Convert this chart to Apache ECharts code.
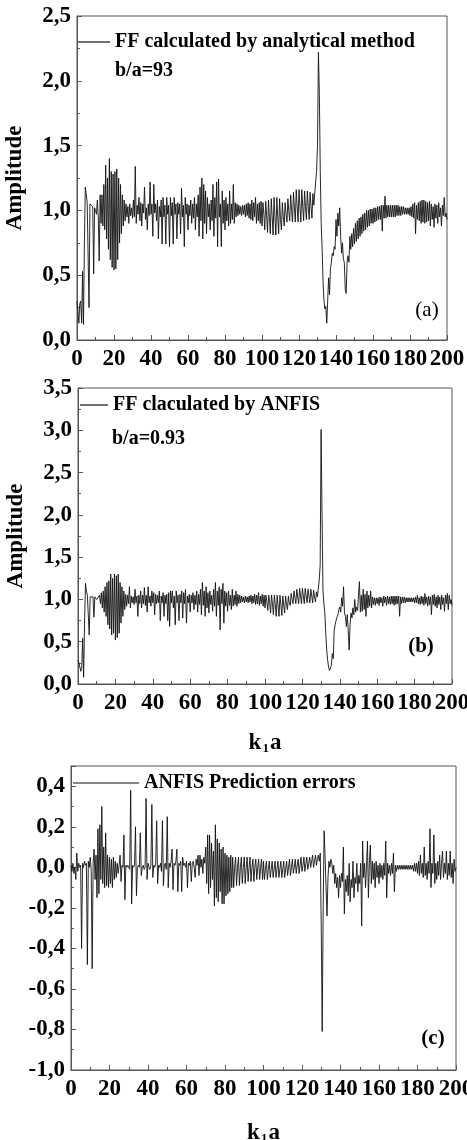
<!DOCTYPE html>
<html><head><meta charset="utf-8">
<script src="https://cdn.jsdelivr.net/npm/echarts@6/dist/echarts.min.js"></script>
<style>html,body{margin:0;padding:0;background:#fff}#c{width:467px;height:1140px}</style>
</head><body><div id="c"></div>
<script>
// sample spacing of k1a along the x axis
const X_STEP = 0.5;
const xTickLabels = ['0','20','40','60','80','100','120','140','160','180','200'];
const yTickLabelsA = ['0,0','0,5','1,0','1,5','2,0','2,5'];
const yTickLabelsB = ['0,0','0,5','1,0','1,5','2,0','2,5','3,0','3,5'];
const yTickLabelsC = ['-1,0','-0,8','-0,6','-0,4','-0,2','0,0','0,2','0,4'];
const seriesNames = ['FF calculated by analytical method','FF claculated by ANFIS','ANFIS Prediction errors'];
const panelNotes = ['b/a=93','b/a=0.93'];
const panelTags = ['(a)','(b)','(c)'];

// FF calculated by analytical method (k1a = 0 .. 200, step 0.5)
const ffAnalytical = [
0.30,0.22,0.13,0.28,0.30,0.13,0.53,0.12,0.75,1.18,1.12,1.06,1.05,0.25,1.05,1.04,1.04,1.03,0.51,1.02,
1.0,0.97,1.08,0.95,0.61,1.12,0.9,1.12,0.88,1.2,0.85,1.35,0.78,1.25,0.7,1.4,0.62,1.3,0.56,1.28,
0.54,1.3,0.55,1.32,0.62,1.25,0.75,1.2,0.82,1.12,0.88,1.08,0.92,1.05,0.95,1.03,0.9,1.05,0.96,1.02,
0.94,1.08,0.95,1.34,0.9,1.04,0.97,1.1,0.92,1.06,0.88,1.05,0.98,1.18,0.93,1.02,0.85,1.05,0.96,1.22,
0.97,1.05,0.8,1.2,0.98,1.05,0.92,1.08,0.78,1.03,0.95,1.08,0.74,1.1,0.95,1.04,0.74,1.1,0.97,1.04,
0.72,1.1,0.96,1.06,0.74,1.1,0.97,1.05,0.78,1.06,0.97,1.05,0.82,1.17,0.95,1.04,0.72,1.1,0.97,1.05,
0.85,1.04,0.96,1.08,0.9,1.05,0.94,1.1,0.85,1.05,0.95,1.12,0.8,1.18,0.92,1.25,0.78,1.2,0.9,1.15,
0.82,1.1,0.95,1.05,0.85,1.08,0.92,1.2,0.8,1.1,0.94,1.22,0.72,1.24,0.95,1.05,0.72,1.15,0.9,1.08,
0.85,1.1,0.92,1.05,0.88,1.15,0.9,1.05,0.93,1.2,0.9,1.06,0.95,1.05,0.96,1.04,0.97,1.03,0.96,1.04,
0.97,1.04,0.95,1.05,0.96,1.06,0.94,1.05,0.93,1.08,0.92,1.06,0.95,1.1,0.9,1.05,0.92,1.06,0.9,1.07,
0.88,1.06,0.97,0.85,1.07,0.96,0.83,1.08,0.95,0.82,1.09,0.95,0.81,1.1,0.95,0.81,1.1,0.95,0.82,1.09,
0.93,0.85,1.06,0.95,0.88,1.06,0.97,0.91,1.09,0.99,0.92,1.12,1.0,0.91,1.14,1.02,0.91,1.16,1.03,0.91,
1.16,1.03,0.91,1.16,1.03,0.92,1.15,1.03,0.93,1.15,1.03,0.93,1.14,1.03,0.94,1.13,1.04,1.05,1.22,1.3,
1.5,2.22,1.9,1.3,0.9,0.7,0.45,0.3,0.24,0.26,0.13,0.3,0.48,0.35,0.55,0.6,0.67,0.65,0.72,0.7,
0.93,0.8,0.98,0.88,1.02,0.8,0.67,0.75,0.62,0.6,0.39,0.36,0.6,0.65,0.6,0.8,0.7,0.82,0.72,0.86,
0.74,0.9,0.76,0.92,0.78,0.94,0.8,0.95,0.82,0.97,0.84,0.98,0.85,1.0,0.87,1.0,0.88,1.01,0.9,1.01,
0.9,1.02,0.91,1.02,0.92,1.03,0.93,1.03,0.93,1.04,0.84,1.04,0.94,1.11,0.94,1.04,0.95,1.04,0.95,1.04,
0.95,1.04,0.95,1.04,0.95,1.04,0.96,1.04,0.96,1.03,0.96,1.03,0.97,1.03,0.97,1.02,0.97,1.02,0.97,1.02,
0.96,1.03,0.95,1.05,0.94,1.06,0.82,1.04,0.93,1.06,0.92,1.07,0.9,1.08,0.91,1.08,0.9,1.07,0.91,1.06,
0.92,1.07,0.88,1.05,0.93,1.03,0.87,1.05,0.94,1.04,0.9,1.06,0.95,1.02,0.88,1.04,0.96,1.1,0.95,0.98,0.93
];

// FF calculated by ANFIS
const ffAnfis = [
0.28,0.25,0.2,0.15,0.2,0.54,0.08,0.7,1.19,1.1,1.05,1.04,0.58,1.03,1.04,1.03,1.03,0.79,1.03,1.02,
1.0,1.02,0.98,1.05,0.95,1.08,0.9,1.1,0.85,1.15,0.8,1.2,0.7,1.22,0.65,1.3,0.58,1.25,0.6,1.3,
0.52,1.28,0.55,1.3,0.6,1.2,0.72,1.15,0.8,1.1,0.88,1.06,0.92,1.05,0.95,1.15,0.9,1.04,0.96,1.03,
0.94,1.12,0.96,1.04,0.8,1.05,0.95,1.1,0.9,1.05,0.95,1.14,0.93,1.05,0.85,1.15,0.96,1.04,0.92,1.1,
0.96,1.08,0.82,1.06,0.95,1.05,0.96,1.1,0.75,1.04,0.96,1.08,0.8,1.05,0.95,1.06,0.75,1.08,0.68,1.1,
0.96,1.1,0.9,1.04,0.7,1.1,0.96,1.05,0.75,1.06,0.96,1.1,0.78,1.08,0.95,1.12,0.72,1.04,0.96,1.06,
0.85,1.05,0.96,1.08,0.88,1.05,0.94,1.1,0.85,1.06,0.94,1.12,0.82,1.2,0.93,1.1,0.8,1.15,0.9,1.08,
0.84,1.1,0.94,1.05,0.86,1.12,0.92,1.2,0.8,1.1,0.93,1.15,0.64,1.12,0.95,1.19,0.72,1.1,0.92,1.08,
0.86,1.1,0.93,1.05,0.88,1.12,0.92,1.05,0.94,1.1,0.92,1.06,0.95,1.05,0.96,1.04,0.97,1.03,0.96,1.04,
0.97,1.03,0.96,1.04,0.97,1.05,0.95,1.04,0.96,1.06,0.94,1.05,0.95,1.08,0.93,1.04,0.95,1.06,0.92,1.05,
0.9,1.05,0.97,0.87,1.05,0.96,0.84,1.05,0.95,0.82,1.05,0.94,0.8,1.05,0.93,0.8,1.05,0.93,0.81,1.04,
0.93,0.84,1.04,0.94,0.88,1.04,0.96,0.93,1.07,1.0,0.95,1.1,1.02,0.95,1.12,1.03,0.95,1.13,1.04,0.95,
1.13,1.04,0.95,1.13,1.04,0.96,1.12,1.04,0.96,1.12,1.04,0.96,1.11,1.03,0.97,1.09,1.03,1.05,1.23,1.4,
3.01,2.0,1.1,0.95,0.84,0.6,0.4,0.28,0.2,0.16,0.15,0.22,0.36,0.3,0.63,0.7,0.75,0.79,0.82,0.88,
0.91,0.85,1.02,0.92,1.15,0.84,0.8,0.68,0.82,0.65,0.4,0.7,0.84,0.78,0.9,0.82,1.0,0.85,0.91,0.87,
1.05,1.21,0.85,1.05,0.86,1.12,0.88,1.06,0.8,1.1,0.9,1.05,0.92,1.1,0.9,1.03,0.94,1.02,0.93,1.02,
0.95,1.02,0.93,1.03,0.96,1.02,0.92,1.04,0.96,1.03,0.93,1.04,0.95,1.03,0.94,1.04,0.95,1.04,0.93,1.04,
0.94,1.04,0.95,1.04,0.8,1.03,0.95,1.03,0.96,1.03,0.96,1.02,0.97,1.02,0.97,1.02,0.97,1.02,0.97,1.02,
0.96,1.03,0.96,1.05,0.95,1.02,0.94,1.04,0.95,1.03,0.93,1.07,0.95,1.03,0.92,1.04,0.94,1.03,0.82,1.05,
0.94,1.06,0.92,1.03,0.9,1.05,0.94,1.03,0.88,1.05,0.94,1.02,0.86,1.05,0.95,1.07,0.88,1.05,0.95,1.0,0.93
];

// ANFIS prediction errors
const anfisError = [
0.01,-0.02,0.02,-0.03,0.0,-0.06,0.07,-0.02,0.02,0.0,0.01,-0.4,0.02,0.0,0.03,0.01,0.02,-0.48,0.03,0.0,
0.05,-0.02,-0.5,0.02,0.09,-0.06,0.06,-0.15,0.19,-0.13,0.21,-0.06,0.3,-0.08,0.1,-0.1,0.17,-0.09,0.06,-0.1,
0.05,-0.08,0.04,-0.1,0.05,-0.06,0.03,-0.05,0.02,-0.03,0.01,0.06,-0.07,0.01,0.0,0.16,-0.16,0.01,0.0,0.01,
0.0,-0.01,0.38,-0.18,0.01,0.0,0.01,0.2,-0.14,0.0,0.01,0.0,0.17,-0.04,0.0,0.01,-0.01,0.0,0.34,-0.06,
0.02,0.0,-0.01,0.01,0.31,-0.05,0.01,0.0,0.02,0.23,-0.08,0.01,0.0,0.02,-0.02,0.23,-0.09,0.01,0.02,-0.01,
0.25,-0.1,0.02,0.0,0.03,0.09,-0.11,0.02,0.01,0.03,0.09,-0.12,0.02,0.01,0.03,-0.12,0.05,0.01,0.02,0.0,
0.03,-0.1,0.02,0.01,0.03,-0.07,0.02,0.03,0.0,-0.05,0.04,0.01,0.06,-0.04,0.06,0.0,0.04,-0.03,0.05,0.02,
0.1,-0.08,0.16,-0.13,0.16,-0.1,0.12,-0.06,0.08,-0.19,0.21,-0.15,0.14,-0.17,0.12,-0.12,0.09,-0.18,0.1,-0.18,
0.07,-0.14,0.06,-0.13,0.05,-0.12,0.06,-0.1,0.05,-0.1,0.0,0.05,-0.09,0.0,0.05,-0.09,0.0,0.05,-0.08,0.0,
0.05,-0.08,0.0,0.05,-0.07,0.0,0.05,-0.07,0.0,0.04,-0.07,0.0,0.04,-0.06,0.0,0.04,-0.06,0.0,0.04,-0.06,
0.03,-0.06,-0.01,0.03,-0.06,-0.01,0.03,-0.05,-0.01,0.03,-0.05,-0.01,0.03,-0.05,-0.01,0.03,-0.05,-0.01,0.03,-0.05,
-0.01,0.03,-0.05,-0.01,0.03,-0.04,0.0,0.04,-0.04,0.0,0.04,-0.03,0.0,0.04,-0.03,0.01,0.04,-0.03,0.01,0.05,
-0.02,0.01,0.05,-0.02,0.02,0.05,-0.01,0.02,0.05,0.0,0.03,0.06,0.0,0.03,0.06,0.01,0.04,0.06,0.03,0.07,
-0.3,-0.81,-0.2,0.18,0.05,-0.1,-0.24,-0.05,0.03,0.0,0.04,0.02,-0.03,0.01,-0.08,-0.03,-0.1,-0.05,-0.15,-0.04,
-0.1,-0.03,-0.07,0.1,-0.23,-0.06,-0.12,-0.04,-0.14,0.02,-0.17,-0.06,-0.1,0.03,-0.15,-0.05,-0.08,0.02,-0.12,-0.04,
-0.08,0.02,-0.29,0.13,-0.05,0.02,-0.1,0.0,0.13,-0.15,0.02,0.11,-0.08,0.03,-0.06,0.02,-0.1,0.03,-0.05,0.01,
-0.08,0.02,-0.05,0.01,-0.06,0.02,-0.04,0.13,-0.15,0.02,-0.03,0.01,-0.04,0.02,-0.03,0.07,-0.12,0.01,-0.02,0.01,
-0.01,0.01,-0.01,0.01,-0.01,0.01,-0.01,0.01,-0.01,0.01,-0.01,0.01,-0.01,0.01,-0.01,0.01,-0.02,0.02,-0.02,0.02,
-0.03,0.03,-0.04,0.06,-0.03,0.02,-0.05,0.1,-0.04,0.02,-0.06,0.03,-0.03,0.19,-0.1,0.02,-0.03,0.16,-0.08,0.02,
-0.06,0.03,-0.04,0.06,-0.06,0.02,0.08,-0.05,0.02,-0.03,0.08,-0.06,0.02,-0.04,0.08,-0.05,0.02,-0.08,0.04,-0.02,0.0
];

const FONT = '"Liberation Serif", "Times New Roman", serif';
const FRAME = '#555';
const toPairs = arr => arr.map((v, i) => [i * X_STEP, v]);

function labelFrom(list, min, step) {
  return v => { const k = Math.round((v - min) / step); return list[k] !== undefined ? list[k] : ''; };
}

function makeX(gi, nameGap) {
  const ax = {
    type: 'value', gridIndex: gi, min: 0, max: 200, interval: 20,
    axisLine: { show: true, onZero: false, lineStyle: { color: FRAME, width: 1 } },
    axisTick: { show: true, inside: true, length: 5, lineStyle: { color: FRAME } },
    minorTick: { show: true, splitNumber: 2, length: 3, lineStyle: { color: FRAME } },
    splitLine: { show: false },
    axisLabel: { fontFamily: FONT, fontWeight: 'bold', fontSize: 23, color: '#000', margin: 8,
      formatter: labelFrom(xTickLabels, 0, 20) }
  };
  if (nameGap) {
    ax.name = '{a|k}{s|1}{a|a}';
    ax.nameLocation = 'middle';
    ax.nameGap = nameGap;
    ax.nameTextStyle = { rich: {
      a: { fontFamily: FONT, fontWeight: 'bold', fontSize: 23, color: '#000' },
      s: { fontFamily: FONT, fontWeight: 'bold', fontSize: 13, color: '#000', verticalAlign: 'bottom', padding: [0, 1, 0, 1] }
    } };
  }
  return ax;
}

function makeY(gi, min, max, step, labels, name) {
  const ax = {
    type: 'value', gridIndex: gi, min: min, max: max, interval: step,
    axisLine: { show: true, onZero: false, lineStyle: { color: FRAME, width: 1 } },
    axisTick: { show: true, inside: true, length: 5, lineStyle: { color: FRAME } },
    minorTick: { show: true, splitNumber: 2, length: 3, lineStyle: { color: FRAME } },
    splitLine: { show: false },
    axisLabel: { fontFamily: FONT, fontWeight: 'bold', fontSize: 23, color: '#000', margin: 6,
      showMaxLabel: labels.length * step - step + min >= max - 1e-9,
      formatter: labelFrom(labels, min, step) }
  };
  if (name) {
    ax.name = name;
    ax.nameLocation = 'middle';
    ax.nameGap = 50;
    ax.nameTextStyle = { fontFamily: FONT, fontWeight: 'bold', fontSize: 23, color: '#000' };
  }
  return ax;
}

function makeLegend(name, left, top, w) {
  return {
    data: [name], left: left, top: top, padding: 0, icon: 'rect',
    itemWidth: w, itemHeight: 1.2, selectedMode: false,
    textStyle: { fontFamily: FONT, fontWeight: 'bold', fontSize: 20, color: '#000' }
  };
}

function txt(x, y, text, weight, size, align) {
  return { type: 'text', x: x, y: y, silent: true, style: {
    text: text, fontFamily: FONT, fontWeight: weight, fontSize: size, fill: '#000',
    align: align || 'left', verticalAlign: 'middle' } };
}

function makeGrid(left, top, width, height) {
  return { left: left, top: top, width: width, height: height, show: true,
    borderColor: FRAME, borderWidth: 1, containLabel: false, outerBoundsMode: 'none' };
}

const LINE = { width: 0.9, color: '#111' };
const chart = echarts.init(document.getElementById('c'), null, { renderer: 'canvas' });
chart.setOption({
  animation: false,
  backgroundColor: '#fff',
  grid: [ makeGrid(77, 16, 370, 324), makeGrid(78, 388, 374, 296), makeGrid(71, 766, 385, 304) ],
  xAxis: [ makeX(0, 0), makeX(1, 48), makeX(2, 52) ],
  yAxis: [
    makeY(0, 0, 2.5, 0.5, yTickLabelsA, 'Amplitude'),
    makeY(1, 0, 3.5, 0.5, yTickLabelsB, 'Amplitude'),
    makeY(2, -1, 0.5, 0.2, yTickLabelsC, null)
  ],
  legend: [
    makeLegend(seriesNames[0], 78, 32, 32),
    makeLegend(seriesNames[1], 80, 395, 28),
    makeLegend(seriesNames[2], 73, 773, 66)
  ],
  graphic: [
    txt(115, 71, panelNotes[0], 'bold', 20),
    txt(112, 439, panelNotes[1], 'bold', 20),
    txt(427, 310, panelTags[0], 'normal', 21, 'center'),
    txt(421, 647, panelTags[1], 'bold', 21, 'center'),
    txt(433, 1039, panelTags[2], 'bold', 21, 'center')
  ],
  series: [
    { name: seriesNames[0], type: 'line', xAxisIndex: 0, yAxisIndex: 0, data: toPairs(ffAnalytical),
      showSymbol: false, symbol: 'none', color: '#111', lineStyle: LINE },
    { name: seriesNames[1], type: 'line', xAxisIndex: 1, yAxisIndex: 1, data: toPairs(ffAnfis),
      showSymbol: false, symbol: 'none', color: '#111', lineStyle: LINE },
    { name: seriesNames[2], type: 'line', xAxisIndex: 2, yAxisIndex: 2, data: toPairs(anfisError),
      showSymbol: false, symbol: 'none', color: '#111', lineStyle: LINE }
  ]
});
</script>
</body></html>
